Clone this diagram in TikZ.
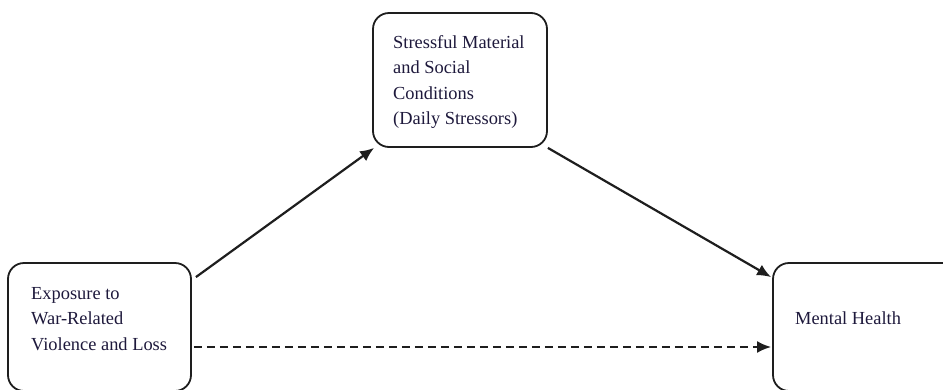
\documentclass[tikz,border=0pt]{standalone}
\usepackage{fontspec}
\setmainfont{Liberation Serif}
\usetikzlibrary{arrows.meta}
\definecolor{txtcol}{RGB}{30,25,60}
\definecolor{linecol}{RGB}{30,30,30}
\begin{document}
\begin{tikzpicture}[x=1pt,y=-1pt,
  box/.style={draw=linecol, line width=1.8pt, rounded corners=16pt, inner sep=0pt},
  txt/.style={text=txtcol, font=\fontsize{18.4}{25.5}\selectfont, align=left, inner sep=0pt, anchor=north west},
  conn/.style={draw=linecol, line width=2.2pt, -{Latex[length=14pt,width=12pt]}},
  dashconn/.style={conn, dash pattern=on 8pt off 5pt}
]
\useasboundingbox (0,0) rectangle (943,389);
\fill[white] (0,0) rectangle (943,389);
\clip (0,0) rectangle (943,389);

\node[box, minimum width=174pt, minimum height=134pt] (ds) at (460,80) {};
\node[box, minimum width=183pt, minimum height=128pt] (ex) at (99.5,327) {};
\node[box, minimum width=187pt, minimum height=128pt] (mh) at (866.5,327) {};

\node[txt] (dst) at (393,35) {Stressful Material\\and Social\\Conditions\\(Daily Stressors)};
\node[txt] (ext) at (31,287) {Exposure to\\War-Related\\Violence and Loss};
\node[txt] (mht) at (795,311.5) {Mental Health};

\draw[conn] ([shift={(4,15)}]ex.north east) -- ([shift={(2,0)}]ds.south west);
\draw[conn] (ds.south east) -- ([shift={(-1,15)}]mh.north west);
\draw[dashconn] ([shift={(2,20)}]ex.east) -- ([shift={(-1,20)}]mh.west);
\end{tikzpicture}
\end{document}
